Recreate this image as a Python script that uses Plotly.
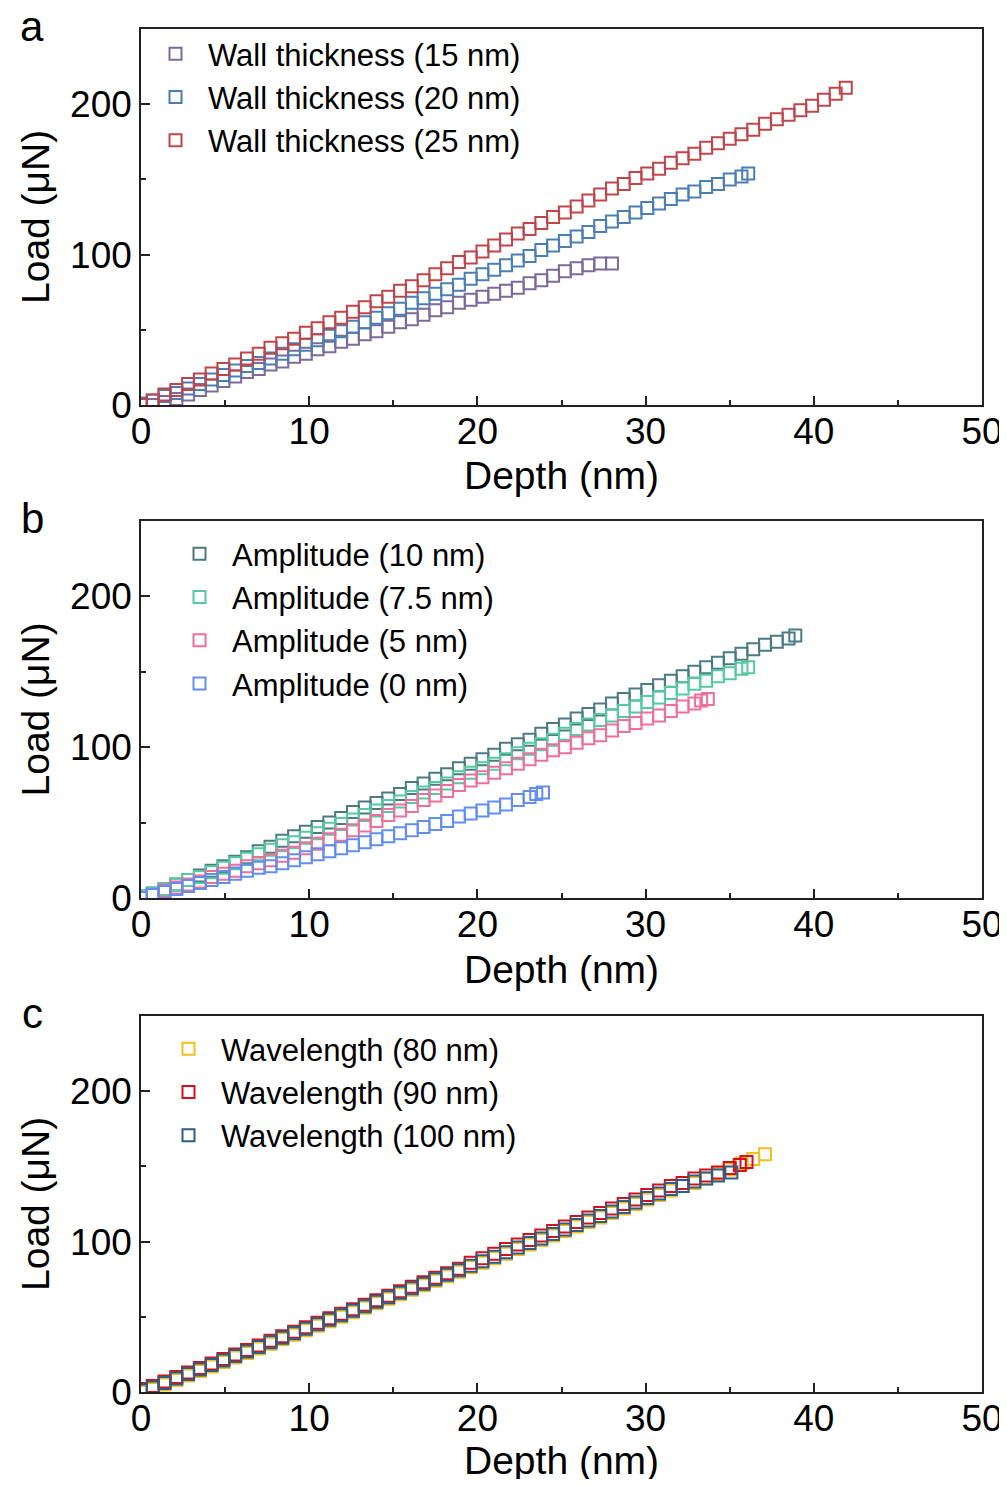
import plotly.graph_objects as go

# ---- panel a : wall thickness ----
depth_a15 = [0.7, 1.4, 2.1, 2.8, 3.5, 4.2, 4.9, 5.6, 6.3, 7.0, 7.7, 8.4, 9.1, 9.8, 10.5, 11.2, 11.9, 12.6, 13.3, 14.0,
             14.7, 15.4, 16.1, 16.8, 17.5, 18.2, 18.9, 19.6, 20.3, 21.0, 21.7, 22.4, 23.1, 23.8, 24.5, 25.2, 25.9, 26.6,
             27.3, 28.0]
load_a15 = [0, 2, 4, 7, 10, 13, 16, 19, 22, 24, 27, 29, 32, 34, 37, 39, 42, 44, 47, 49,
            52, 55, 57, 60, 63, 65, 68, 70, 72, 74, 76, 78, 81, 83, 86, 89, 91, 93,
            94, 94]

depth_a20 = [0.0, 0.7, 1.4, 2.1, 2.8, 3.5, 4.2, 4.9, 5.6, 6.3, 7.0, 7.7, 8.4, 9.1, 9.8, 10.5, 11.2, 11.9, 12.6, 13.3,
             14.0, 14.7, 15.4, 16.1, 16.8, 17.5, 18.2, 18.9, 19.6, 20.3, 21.0, 21.7, 22.4, 23.1, 23.8, 24.5, 25.2, 25.9,
             26.6, 27.3, 28.0, 28.7, 29.4, 30.1, 30.8, 31.5, 32.2, 32.9, 33.6, 34.3, 35.0, 35.7, 36.1]
load_a20 = [1, 3, 6, 8, 11, 14, 17, 20, 23, 26, 28, 31, 34, 37, 40, 43, 46, 49, 52, 55,
            58, 61, 64, 68, 71, 74, 77, 80, 84, 87, 90, 93, 96, 99, 103, 106, 109, 112,
            115, 119, 122, 125, 128, 131, 134, 137, 140, 142, 145, 147, 150, 152, 154]

depth_a25 = [0.0, 0.7, 1.4, 2.1, 2.8, 3.5, 4.2, 4.9, 5.6, 6.3, 7.0, 7.7, 8.4, 9.1, 9.8, 10.5, 11.2, 11.9, 12.6, 13.3,
             14.0, 14.7, 15.4, 16.1, 16.8, 17.5, 18.2, 18.9, 19.6, 20.3, 21.0, 21.7, 22.4, 23.1, 23.8, 24.5, 25.2, 25.9,
             26.6, 27.3, 28.0, 28.7, 29.4, 30.1, 30.8, 31.5, 32.2, 32.9, 33.6, 34.3, 35.0, 35.7, 36.4, 37.1, 37.8, 38.5,
             39.2, 39.9, 40.6, 41.3, 41.9]
load_a25 = [0, 3, 7, 10, 14, 17, 21, 24, 27, 31, 34, 38, 41, 44, 48, 51, 55, 58, 62, 65,
            69, 72, 76, 79, 83, 87, 91, 95, 98, 102, 106, 110, 114, 117, 121, 125, 128, 132,
            136, 140, 144, 147, 151, 154, 157, 161, 164, 167, 171, 174, 177, 180, 183, 187, 190, 193,
            196, 199, 203, 207, 211]

# ---- panel b : amplitude ----
depth_b10 = [0.0, 0.7, 1.4, 2.1, 2.8, 3.5, 4.2, 4.9, 5.6, 6.3, 7.0, 7.7, 8.4, 9.1, 9.8, 10.5, 11.2, 11.9, 12.6, 13.3,
             14.0, 14.7, 15.4, 16.1, 16.8, 17.5, 18.2, 18.9, 19.6, 20.3, 21.0, 21.7, 22.4, 23.1, 23.8, 24.5, 25.2, 25.9,
             26.6, 27.3, 28.0, 28.7, 29.4, 30.1, 30.8, 31.5, 32.2, 32.9, 33.6, 34.3, 35.0, 35.7, 36.4, 37.1, 37.8, 38.5,
             38.9]
load_b10 = [1, 3, 6, 9, 12, 15, 18, 21, 24, 27, 31, 34, 38, 41, 44, 47, 50, 53, 57, 60,
            63, 66, 69, 73, 76, 79, 82, 86, 89, 92, 95, 99, 102, 105, 109, 112, 115, 119,
            122, 125, 129, 132, 135, 138, 141, 144, 147, 150, 153, 156, 159, 162, 165, 168, 170, 172,
            174]

depth_b75 = [0.0, 0.7, 1.4, 2.1, 2.8, 3.5, 4.2, 4.9, 5.6, 6.3, 7.0, 7.7, 8.4, 9.1, 9.8, 10.5, 11.2, 11.9, 12.6, 13.3,
             14.0, 14.7, 15.4, 16.1, 16.8, 17.5, 18.2, 18.9, 19.6, 20.3, 21.0, 21.7, 22.4, 23.1, 23.8, 24.5, 25.2, 25.9,
             26.6, 27.3, 28.0, 28.7, 29.4, 30.1, 30.8, 31.5, 32.2, 32.9, 33.6, 34.3, 35.0, 35.7, 36.1]
load_b75 = [1, 3, 6, 9, 12, 14, 17, 20, 23, 26, 29, 32, 35, 37, 40, 43, 46, 49, 52, 55,
            58, 61, 64, 67, 70, 73, 76, 80, 83, 86, 89, 92, 96, 99, 102, 105, 109, 112,
            115, 118, 121, 124, 127, 130, 133, 136, 139, 142, 144, 147, 149, 152, 153]

depth_b5 = [0.0, 0.7, 1.4, 2.1, 2.8, 3.5, 4.2, 4.9, 5.6, 6.3, 7.0, 7.7, 8.4, 9.1, 9.8, 10.5, 11.2, 11.9, 12.6, 13.3,
            14.0, 14.7, 15.4, 16.1, 16.8, 17.5, 18.2, 18.9, 19.6, 20.3, 21.0, 21.7, 22.4, 23.1, 23.8, 24.5, 25.2, 25.9,
            26.6, 27.3, 28.0, 28.7, 29.4, 30.1, 30.8, 31.5, 32.2, 32.9, 33.3, 33.7]
load_b5 = [0, 2, 5, 7, 9, 11, 14, 16, 18, 21, 23, 25, 28, 30, 33, 36, 39, 42, 45, 48,
           51, 55, 58, 61, 65, 68, 71, 75, 78, 80, 83, 86, 89, 92, 95, 98, 100, 103,
           106, 108, 111, 114, 116, 119, 121, 124, 127, 129, 131, 132]

depth_b0 = [0.0, 0.7, 1.4, 2.1, 2.8, 3.5, 4.2, 4.9, 5.6, 6.3, 7.0, 7.7, 8.4, 9.1, 9.8, 10.5, 11.2, 11.9, 12.6, 13.3,
            14.0, 14.7, 15.4, 16.1, 16.8, 17.5, 18.2, 18.9, 19.6, 20.3, 21.0, 21.7, 22.4, 23.1, 23.5, 23.9]
load_b0 = [0, 2, 4, 6, 8, 10, 12, 14, 16, 18, 20, 21, 23, 25, 27, 29, 31, 33, 35, 37,
           39, 41, 43, 45, 47, 49, 51, 54, 56, 58, 60, 62, 65, 67, 69, 70]

# ---- panel c : wavelength ----
depth_c80 = [0.0, 0.7, 1.4, 2.1, 2.8, 3.5, 4.2, 4.9, 5.6, 6.3, 7.0, 7.7, 8.4, 9.1, 9.8, 10.5, 11.2, 11.9, 12.6, 13.3,
             14.0, 14.7, 15.4, 16.1, 16.8, 17.5, 18.2, 18.9, 19.6, 20.3, 21.0, 21.7, 22.4, 23.1, 23.8, 24.5, 25.2, 25.9,
             26.6, 27.3, 28.0, 28.7, 29.4, 30.1, 30.8, 31.5, 32.2, 32.9, 33.6, 34.3, 35.0, 35.7, 36.4, 37.1]
load_c80 = [0, 2, 5, 8, 11, 14, 17, 20, 23, 26, 29, 32, 35, 38, 41, 44, 47, 50, 53, 56,
            59, 62, 65, 68, 71, 74, 77, 80, 83, 86, 89, 92, 95, 98, 101, 104, 107, 110,
            113, 116, 119, 122, 125, 128, 131, 134, 137, 139, 142, 145, 148, 152, 155, 158]

depth_c90 = [0.0, 0.7, 1.4, 2.1, 2.8, 3.5, 4.2, 4.9, 5.6, 6.3, 7.0, 7.7, 8.4, 9.1, 9.8, 10.5, 11.2, 11.9, 12.6, 13.3,
             14.0, 14.7, 15.4, 16.1, 16.8, 17.5, 18.2, 18.9, 19.6, 20.3, 21.0, 21.7, 22.4, 23.1, 23.8, 24.5, 25.2, 25.9,
             26.6, 27.3, 28.0, 28.7, 29.4, 30.1, 30.8, 31.5, 32.2, 32.9, 33.6, 34.3, 35.0, 35.6, 36.0]
load_c90 = [2, 4, 7, 10, 13, 16, 19, 22, 25, 28, 31, 34, 37, 40, 43, 46, 49, 52, 55, 58,
            61, 64, 67, 70, 73, 76, 79, 82, 86, 89, 92, 95, 98, 101, 104, 107, 110, 113,
            116, 119, 122, 125, 128, 131, 134, 137, 139, 142, 144, 146, 149, 151, 153]

depth_c100 = [0.0, 0.7, 1.4, 2.1, 2.8, 3.5, 4.2, 4.9, 5.6, 6.3, 7.0, 7.7, 8.4, 9.1, 9.8, 10.5, 11.2, 11.9, 12.6, 13.3,
              14.0, 14.7, 15.4, 16.1, 16.8, 17.5, 18.2, 18.9, 19.6, 20.3, 21.0, 21.7, 22.4, 23.1, 23.8, 24.5, 25.2, 25.9,
              26.6, 27.3, 28.0, 28.7, 29.4, 30.1, 30.8, 31.5, 32.2, 32.9, 33.6, 34.3, 35.1]
load_c100 = [1, 3, 6, 9, 12, 15, 18, 21, 24, 27, 30, 33, 36, 39, 42, 45, 48, 51, 54, 57,
             60, 63, 66, 69, 72, 75, 78, 81, 84, 87, 90, 93, 96, 99, 102, 105, 108, 111,
             114, 117, 120, 123, 126, 129, 132, 135, 137, 140, 142, 144, 146]

panels = [
    [("Wall thickness (15 nm)", depth_a15, load_a15, "#7b6a9b"),
     ("Wall thickness (20 nm)", depth_a20, load_a20, "#4a7eb4"),
     ("Wall thickness (25 nm)", depth_a25, load_a25, "#c0454a")],
    [("Amplitude (10 nm)", depth_b10, load_b10, "#4a7b83"),
     ("Amplitude (7.5 nm)", depth_b75, load_b75, "#55c9a0"),
     ("Amplitude (5 nm)", depth_b5, load_b5, "#f06e9b"),
     ("Amplitude (0 nm)", depth_b0, load_b0, "#628ef0")],
    [("Wavelength (80 nm)", depth_c80, load_c80, "#f0c020"),
     ("Wavelength (90 nm)", depth_c90, load_c90, "#d4101e"),
     ("Wavelength (100 nm)", depth_c100, load_c100, "#2e5d87")],
]
letters = ["a", "b", "c"]

# the page body has an 8px margin; the figure starts 8px in and must not be
# taller than the window (a scrollbar would eat into the width)
OFF = 8
W, H = 1007 - OFF, 1487 - 2 * OFF
# pixel boxes of each plot in page pixels (top, bottom)
boxes = [(29, 405), (521, 898), (1016, 1392)]
depth_title_y = [475, 969, 1460]
x_left, x_right = 141, 982
legend_pos = [(143, 27), (167, 527), (156, 1022)]


def px(x):
    return (x - OFF) / W


def py(y):
    return 1 - (y - OFF) / H


FONT = "Liberation Sans, Arial, sans-serif"
fig = go.Figure()

for i, series in enumerate(panels):
    sfx = "" if i == 0 else str(i + 1)
    for name, d, l, c in series:
        fig.add_trace(go.Scatter(
            x=d, y=l, name=name, mode="markers",
            marker=dict(symbol="square-open", size=12, color=c, line=dict(width=2, color=c)),
            xaxis="x" + sfx, yaxis="y" + sfx, legend="legend" + sfx,
        ))

    top, bot = boxes[i]
    axis_common = dict(
        showline=True, linecolor="#222", linewidth=1.5, mirror=True,
        ticks="inside", ticklen=9, tickwidth=1.5, tickcolor="#222",
        showgrid=False, zeroline=False, automargin=False,
        tickfont=dict(family=FONT, size=37, color="black"),
    )
    fig.layout["xaxis" + sfx] = dict(
        axis_common, domain=[px(x_left), px(x_right)], range=[0, 50], dtick=10,
        anchor="y" + sfx, ticklabelstandoff=-7,
        minor=dict(ticks="inside", dtick=5, ticklen=5, tickwidth=1.5, tickcolor="#222"),
    )
    fig.layout["yaxis" + sfx] = dict(
        axis_common, domain=[py(bot), py(top)], range=[0, 250], dtick=100,
        anchor="x" + sfx,
        minor=dict(ticks="inside", dtick=50, ticklen=5, tickwidth=1.5, tickcolor="#222"),
    )

    lx, ly = legend_pos[i]
    fig.layout["legend" + sfx] = dict(
        x=px(lx), y=py(ly), xanchor="left", yanchor="top",
        bgcolor="rgba(0,0,0,0)", borderwidth=0, itemwidth=55,
        font=dict(family=FONT, size=31, color="black"), tracegroupgap=0,
    )

    # axis titles and panel letter
    fig.add_annotation(text="Depth (nm)", x=px((x_left + x_right) / 2), y=py(depth_title_y[i]),
                       xref="paper", yref="paper", showarrow=False,
                       xanchor="center", yanchor="middle",
                       font=dict(family=FONT, size=39, color="black"))
    fig.add_annotation(text="Load (μN)", x=px(35), y=py((top + bot) / 2),
                       xref="paper", yref="paper", showarrow=False, textangle=-90,
                       xanchor="center", yanchor="middle",
                       font=dict(family=FONT, size=39, color="black"))
    fig.add_annotation(text=letters[i], x=px(32), y=py(top - 3),
                       xref="paper", yref="paper", showarrow=False,
                       xanchor="center", yanchor="middle",
                       font=dict(family=FONT, size=42, color="black"))

fig.update_layout(
    width=W, height=H, margin=dict(l=0, r=0, t=0, b=0, autoexpand=False),
    paper_bgcolor="white", plot_bgcolor="white", showlegend=True,
)

fig.write_html("out.html")
